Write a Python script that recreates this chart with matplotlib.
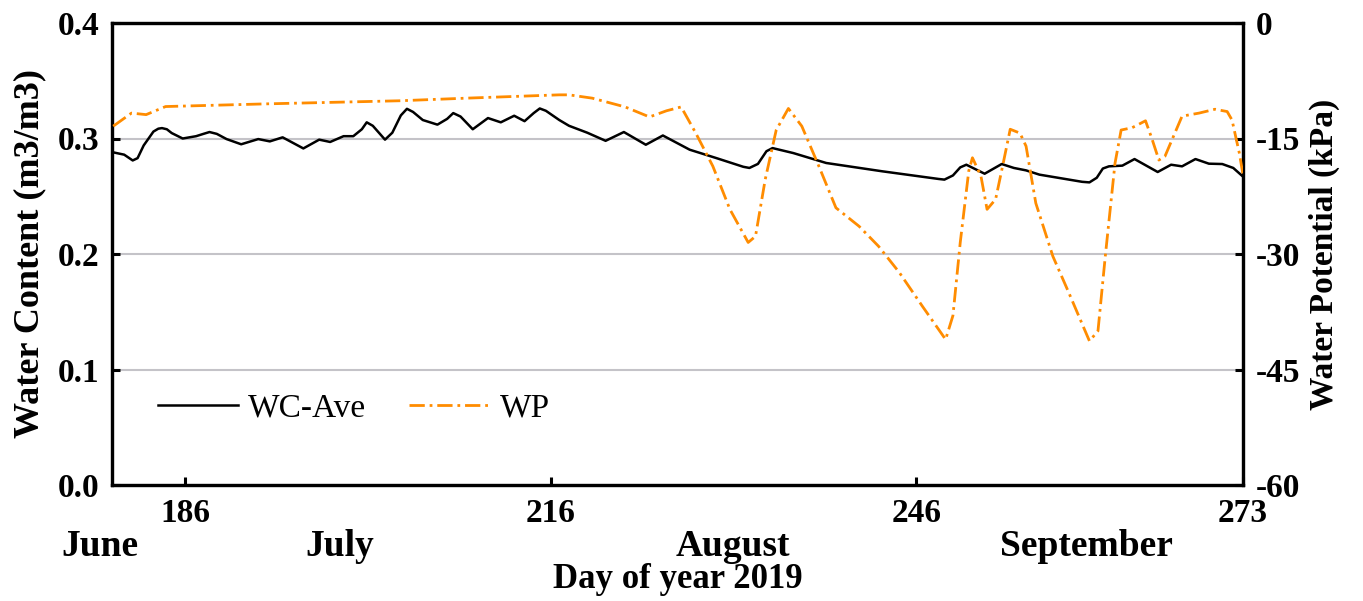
import matplotlib
matplotlib.use("Agg")
import matplotlib.pyplot as plt
from matplotlib.lines import Line2D

plt.rcParams['font.family'] = ['Liberation Serif', 'DejaVu Serif']
plt.rcParams['lines.scale_dashes'] = False

# Average soil water content (m3/m3) by day of year
wc_day = [180.1, 181.0, 181.7, 182.1, 182.6, 183.4, 183.8, 184.1, 184.5, 184.9,
          185.8, 186.9, 187.5, 188.0, 188.6, 189.4, 190.6, 192.0, 192.95, 194.0,
          195.7, 197.0, 197.9, 199.0, 199.8, 200.5, 200.9, 201.4, 202.4, 203.0,
          203.7, 204.2, 204.7, 205.5, 206.7, 207.5, 208.0, 208.6, 209.6, 210.85,
          211.9, 213.0, 213.85, 214.6, 215.1, 215.6, 216.7, 217.5, 219.0, 220.5,
          222.0, 223.8, 225.2, 227.4, 229.6, 231.8, 232.3, 233.0, 233.7, 234.2,
          235.9, 238.6, 243.2, 247.8, 248.3, 249.0, 249.6, 250.1, 251.6, 253.0,
          254.0, 255.0, 256.1, 259.6, 260.2, 260.8, 261.3, 261.8, 262.9, 263.9,
          265.8, 266.9, 267.8, 268.9, 270.0, 271.1, 272.0, 272.8]
wc_val = [0.288, 0.286, 0.281, 0.283, 0.294, 0.306, 0.3085, 0.309, 0.308, 0.3047,
          0.300, 0.302, 0.304, 0.3056, 0.304, 0.2995, 0.295, 0.2995, 0.2975, 0.301,
          0.2914, 0.299, 0.297, 0.302, 0.302, 0.308, 0.314, 0.311, 0.299, 0.305,
          0.320, 0.3257, 0.323, 0.316, 0.312, 0.317, 0.322, 0.319, 0.308, 0.3177,
          0.314, 0.3197, 0.315, 0.322, 0.326, 0.324, 0.316, 0.311, 0.305, 0.298,
          0.3056, 0.2946, 0.3026, 0.2903, 0.283, 0.2755, 0.2745, 0.278, 0.289, 0.2917,
          0.2874, 0.2788, 0.2716, 0.2650, 0.2644, 0.268, 0.275, 0.2773, 0.2695, 0.2779,
          0.2745, 0.2724, 0.2687, 0.2625, 0.262, 0.266, 0.274, 0.2759, 0.2765, 0.2822,
          0.271, 0.2773, 0.2759, 0.2822, 0.2782, 0.2779, 0.2745, 0.2670]

# Soil water potential (kPa) by day of year
wp_day = [180.1, 181.6, 182.8, 184.4, 192.7, 203.6, 209.1, 216.7, 217.5, 219.4,
          222.1, 224.1, 225.5, 226.7, 227.9, 229.3, 230.7, 232.2, 232.8, 233.6,
          234.5, 235.5, 236.6, 238.0, 239.4, 241.3, 242.9, 244.6, 246.5, 248.4,
          249.0, 249.6, 250.3, 250.6, 251.3, 251.8, 252.5, 253.1, 253.7, 254.5,
          255.0, 255.8, 257.2, 258.5, 260.2, 260.9, 261.5, 262.3, 262.8, 263.7,
          264.8, 265.3, 265.9, 266.4, 267.8, 269.2, 270.5, 271.5, 271.9, 272.5,
          272.8]
wp_val = [-13.4, -11.7, -11.9, -10.85, -10.5, -10.1, -9.76, -9.33, -9.33, -9.76,
          -10.9, -12.2, -11.4, -10.9, -14.3, -18.6, -24.2, -28.5, -27.7, -20.3,
          -13.9, -11.1, -13.4, -18.6, -24.0, -26.4, -29.0, -32.4, -36.8, -41.1,
          -38.0, -28.5, -19.2, -17.5, -19.9, -24.2, -22.9, -18.4, -13.8, -14.3,
          -16.0, -23.4, -30.3, -35.0, -41.3, -40.0, -30.3, -18.2, -13.9, -13.6,
          -12.7, -14.9, -17.8, -17.3, -12.1, -11.7, -11.2, -11.5, -12.6, -16.9,
          -19.7]

x_ticks = [186, 216, 246, 272.8]
x_ticklabels = ['186', '216', '246', '273']
wc_ticks = [0.0, 0.1, 0.2, 0.3, 0.4]
wp_ticks = [-60, -45, -30, -15, 0]
months = ['June', 'July', 'August', 'September']
month_x = [100, 340, 733, 1086]

W, H = 1363, 601
fig = plt.figure(figsize=(W / 100, H / 100), dpi=100)
ax = fig.add_axes([112 / W, 1 - 485 / H, (1243 - 112) / W, (485 - 23) / H])
ax2 = ax.twinx()

orange = '#FF8C00'
dash_dot = (0, (11, 3.5, 2, 3.5))
ax.plot(wc_day, wc_val, color='black', lw=1.8, zorder=3, solid_joinstyle='round')
ax2.plot(wp_day, wp_val, color=orange, lw=2.0, linestyle=dash_dot, zorder=3)

ax.set_xlim(180.0, 272.8)
ax.set_ylim(0, 0.4)
ax2.set_ylim(-60, 0)

ax.set_yticks(wc_ticks)
ax.set_yticklabels([f'{v:.1f}' for v in wc_ticks])
ax2.set_yticks(wp_ticks)
ax2.set_yticklabels([str(v) for v in wp_ticks])
ax.set_xticks(x_ticks)
ax.set_xticklabels(x_ticklabels)

for yv in [0.1, 0.2, 0.3]:
    ax.axhline(yv, color='#c4c3c8', lw=1.5, zorder=1)

for a in (ax, ax2):
    for s in a.spines.values():
        s.set_linewidth(2.3)
    a.tick_params(direction='in', length=6, width=2.2, labelsize=24, pad=9)
    for lab in a.get_xticklabels() + a.get_yticklabels():
        lab.set_fontweight('bold')

ax.set_ylabel('Water Content (m3/m3)', fontsize=26, fontweight='bold', labelpad=8)
ax2.set_ylabel('Water Potential (kPa)', fontsize=24, fontweight='bold', labelpad=6)

for name, mx in zip(months, month_x):
    fig.text(mx / W, 1 - 546 / H, name, fontsize=27, fontweight='bold',
             ha='center', va='center')
fig.text(678 / W, 1 - 579 / H, 'Day of year 2019', fontsize=25, fontweight='bold',
         ha='center', va='center')

handles = [Line2D([], [], color='black', lw=1.8),
           Line2D([], [], color=orange, lw=2.0, linestyle=dash_dot)]
ax.legend(handles, ['WC-Ave', 'WP'], ncol=2, frameon=False, fontsize=24,
          loc='center left', bbox_to_anchor=(158 / W, 1 - 408 / H),
          bbox_transform=fig.transFigure, borderpad=0, borderaxespad=0,
          handlelength=2.4, handletextpad=0.3, columnspacing=1.3)

fig.savefig('out.png', dpi=100, facecolor='white')
